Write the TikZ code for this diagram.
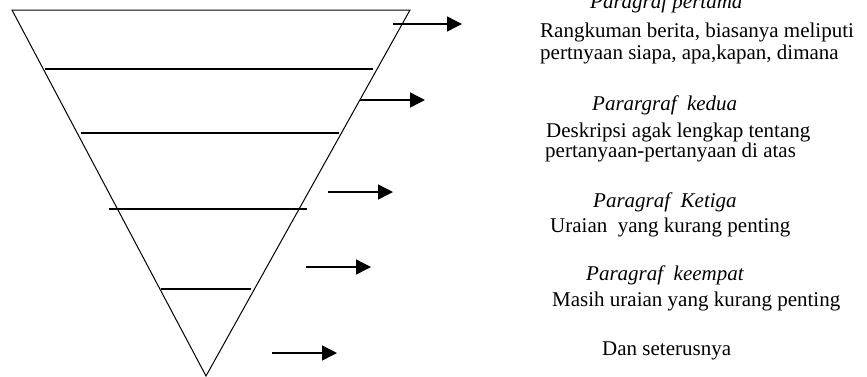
\documentclass[tikz,border=0pt]{standalone}
\usepackage{fontspec}
\setmainfont{Liberation Serif}
\usetikzlibrary{arrows.meta}
\begin{document}
\begin{tikzpicture}[x=1pt,y=-1pt,
  funnel/.style={line width=1pt},
  level/.style={line width=1.4pt},
  pointer/.style={line width=1.4pt,-{Triangle[length=15pt,width=15pt]}},
  txt/.style={anchor=base west,inner sep=0pt,font=\fontsize{21}{24}\selectfont},
  head/.style={txt,font=\fontsize{21}{24}\selectfont\itshape}]
\useasboundingbox (0,0) rectangle (867,376);
% funnel
\coordinate (tl) at (12,10);
\coordinate (tr) at (410,10);
\coordinate (ap) at (206,376);
\draw[funnel] (tl) -- (tr) -- (ap) -- cycle;
% level lines
\coordinate (l1a) at (45,69);  \coordinate (l1b) at (373,69);
\coordinate (l2a) at (81,133); \coordinate (l2b) at (339,133);
\coordinate (l3a) at (109,209);\coordinate (l3b) at (307,209);
\coordinate (l4a) at (161,289);\coordinate (l4b) at (251,289);
\draw[level] (l1a) -- (l1b);
\draw[level] (l2a) -- (l2b);
\draw[level] (l3a) -- (l3b);
\draw[level] (l4a) -- (l4b);
% arrows
\coordinate (a1s) at (393,24);  \coordinate (a1e) at (462,24);
\coordinate (a2s) at (360,100); \coordinate (a2e) at (425,100);
\coordinate (a3s) at (328,192); \coordinate (a3e) at (393,192);
\coordinate (a4s) at (306,267); \coordinate (a4e) at (371,267);
\coordinate (a5s) at (272,353); \coordinate (a5e) at (337,353);
\draw[pointer] (a1s) -- (a1e);
\draw[pointer] (a2s) -- (a2e);
\draw[pointer] (a3s) -- (a3e);
\draw[pointer] (a4s) -- (a4e);
\draw[pointer] (a5s) -- (a5e);
% texts
\node[head] (h1) at (590,8) {Paragraf pertama};
\node[txt] (t1a) at (540,37) {Rangkuman berita, biasanya meliputi};
\node[txt] (t1b) at (540,59) {pertnyaan siapa, apa,kapan, dimana};
\node[head] (h2) at (592,110) {Parargraf\ \ kedua};
\node[txt] (t2a) at (546,137) {Deskripsi agak lengkap tentang};
\node[txt] (t2b) at (545,157) {pertanyaan-pertanyaan di atas};
\node[head] (h3) at (593,207) {Paragraf\ \ Ketiga};
\node[txt] (t3a) at (550,232) {Uraian\ \ yang kurang penting};
\node[head] (h4) at (586,280) {Paragraf\ \ keempat};
\node[txt] (t4a) at (552,306) {Masih uraian yang kurang penting};
\node[txt] (t5) at (602,355) {Dan seterusnya};
\end{tikzpicture}
\end{document}
